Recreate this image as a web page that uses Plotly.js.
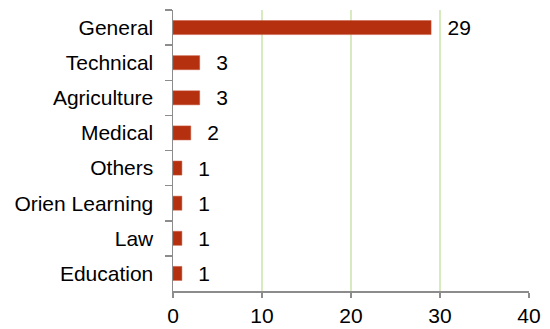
<!DOCTYPE html>
<html><head><meta charset="utf-8">
<script src="https://cdn.plot.ly/plotly-3.0.1.min.js"></script>
<style>html,body{margin:0;padding:0;background:#fff}</style>
</head><body><div id="chart" style="width:550px;height:329px"></div>
<script>
const categories = ["General","Technical","Agriculture","Medical","Others","Orien Learning","Law","Education"];
const values = [29,3,3,2,1,1,1,1];
const xTicks = [0,10,20,30,40];

const FONT = "Liberation Sans, Arial, sans-serif";

const trace = {
  type: "bar",
  orientation: "h",
  y: categories,
  x: values,
  width: 0.4,
  marker: {color: "#B5300F", line: {color: "#C85A40", width: 0.5}},
  texttemplate: "  \u200A%{x}",
  textposition: "outside",
  constraintext: "none",
  cliponaxis: false,
  textfont: {family: FONT, size: 21, color: "#000"},
  hoverinfo: "none"
};

const layout = {
  width: 550, height: 329,
  margin: {l: 173, r: 21, t: 10, b: 38},
  paper_bgcolor: "#fff", plot_bgcolor: "#fff",
  showlegend: false,
  font: {family: FONT, size: 21, color: "#000"},
  xaxis: {
    range: [0, 40], tickvals: xTicks, ticktext: xTicks.map(String),
    showgrid: true, gridcolor: "#D8EBC0", gridwidth: 1.5,
    zeroline: false, showline: true, linecolor: "#8C8C8C", linewidth: 1.5,
    ticks: "outside", ticklen: 5, tickcolor: "#8C8C8C", tickwidth: 1.5,
    tickfont: {family: FONT, size: 21, color: "#000"},
    fixedrange: true
  },
  yaxis: {
    type: "category", autorange: "reversed",
    categoryorder: "array", categoryarray: categories,
    showgrid: false, zeroline: false, showline: true, linecolor: "#8C8C8C", linewidth: 1.5,
    ticks: "outside", tickson: "boundaries", ticklen: 7, tickcolor: "#8C8C8C", tickwidth: 1.5,
    ticklabelstandoff: 14,
    tickfont: {family: FONT, size: 21, color: "#000"},
    fixedrange: true
  }
};

Plotly.newPlot("chart", [trace], layout, {staticPlot: true, displayModeBar: false});
</script>
</body></html>
